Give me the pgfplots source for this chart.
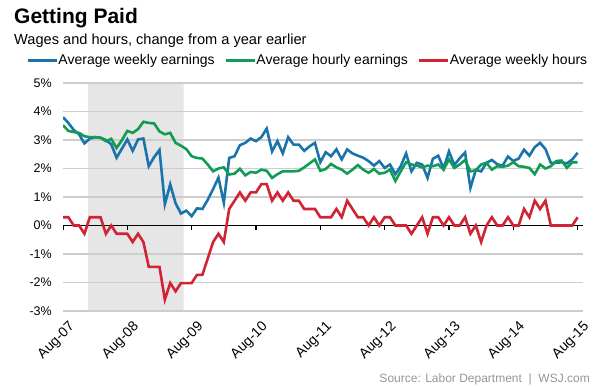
\documentclass[border=0pt]{standalone}
\usepackage{fontspec}
\setmainfont{Liberation Sans}
\usepackage{pgfplots}
\usepackage{pgfplotstable}
\pgfplotsset{compat=1.18}
\definecolor{wsjblue}{RGB}{24,116,170}
\definecolor{wsjgreen}{RGB}{18,155,84}
\definecolor{wsjred}{RGB}{209,35,52}
\definecolor{shade}{RGB}{230,230,230}
\definecolor{gridgray}{RGB}{205,205,205}
\definecolor{srcgray}{RGB}{150,150,150}
\pgfplotstableread{
m w h r
0 3.80 3.52 0.29
1 3.60 3.32 0.29
2 3.35 3.28 0.00
3 3.20 3.25 0.00
4 2.88 3.13 -0.29
5 3.05 3.10 0.29
6 3.10 3.10 0.29
7 3.08 3.08 0.29
8 3.00 2.96 -0.29
9 2.85 3.04 0.00
10 2.38 2.72 -0.29
11 2.70 3.00 -0.29
12 3.02 3.32 -0.29
13 2.62 3.25 -0.58
14 3.02 3.38 -0.29
15 3.05 3.64 -0.58
16 2.08 3.60 -1.45
17 2.40 3.58 -1.45
18 2.65 3.30 -1.45
19 0.75 3.20 -2.60
20 1.44 3.25 -2.02
21 0.78 2.90 -2.31
22 0.42 2.80 -2.02
23 0.52 2.68 -2.02
24 0.33 2.43 -2.02
25 0.60 2.37 -1.73
26 0.58 2.35 -1.73
27 0.90 2.14 -1.16
28 1.28 1.90 -0.58
29 1.68 2.00 -0.29
30 0.80 2.04 -0.58
31 2.37 1.79 0.58
32 2.43 1.82 0.87
33 2.82 1.99 1.16
34 2.90 1.76 0.87
35 3.05 1.88 1.16
36 2.96 1.85 1.16
37 3.10 1.96 1.45
38 3.40 1.92 1.45
39 2.60 1.67 0.87
40 2.96 1.80 1.16
41 2.53 1.90 0.87
42 3.10 1.90 1.16
43 2.84 1.90 0.87
44 2.84 1.92 0.87
45 2.62 2.04 0.58
46 2.78 2.18 0.58
47 2.90 2.32 0.58
48 2.22 1.92 0.29
49 2.57 1.98 0.29
50 2.43 2.16 0.29
51 2.67 2.04 0.58
52 2.32 1.96 0.29
53 2.67 1.82 0.87
54 2.53 1.96 0.58
55 2.45 2.12 0.29
56 2.38 1.96 0.29
57 2.26 1.85 0.00
58 2.10 1.98 0.29
59 2.26 1.82 0.00
60 2.02 1.85 0.29
61 2.14 1.96 0.29
62 1.80 1.56 0.00
63 2.08 1.90 0.00
64 2.53 2.22 0.00
65 1.90 2.14 -0.29
66 2.20 2.10 0.00
67 2.14 2.04 0.29
68 1.67 2.10 -0.29
69 2.34 2.08 0.29
70 2.45 2.14 0.29
71 2.00 1.96 0.00
72 2.60 2.32 0.29
73 2.12 2.02 0.00
74 2.36 2.14 0.00
75 2.56 2.30 0.29
76 1.32 1.90 -0.29
77 1.95 1.94 0.00
78 1.90 2.14 -0.58
79 2.20 2.20 0.00
80 2.30 1.96 0.29
81 2.15 2.08 0.00
82 2.10 2.06 0.00
83 2.42 2.10 0.29
84 2.26 2.22 0.00
85 2.35 2.08 0.00
86 2.66 2.06 0.58
87 2.45 2.02 0.29
88 2.75 1.80 0.87
89 2.90 2.14 0.58
90 2.68 2.00 0.87
91 2.20 2.08 0.00
92 2.20 2.26 0.00
93 2.22 2.28 0.00
94 2.18 2.02 0.00
95 2.32 2.22 0.00
96 2.55 2.22 0.29
}\datatable
\begin{document}
\begin{tikzpicture}
\node[anchor=base west, font=\fontsize{21bp}{24bp}\selectfont\bfseries, inner sep=0] at (14bp,363bp) {Getting Paid};
\node[anchor=base west, font=\fontsize{14.6bp}{16bp}\selectfont, inner sep=0] at (14bp,342bp) {Wages and hours, change from a year earlier};
\node[anchor=base east, text=srcgray, font=\fontsize{12bp}{14bp}\selectfont, inner sep=0] at (590bp,5bp) {Source: Labor Department \ | \ WSJ.com};
\begin{axis}[
  at={(63bp,76bp)}, anchor=south west,
  scale only axis, width=520bp, height=228bp,
  xmin=0, xmax=97, ymin=-3, ymax=5,
  set layers,
  axis line style={draw=none},
  xtick={0,12,...,96},
  xticklabels={Aug-07,Aug-08,Aug-09,Aug-10,Aug-11,Aug-12,Aug-13,Aug-14,Aug-15},
  ytick={-3,-2,...,5},
  yticklabels={-3\%,-2\%,-1\%,0\%,1\%,2\%,3\%,4\%,5\%},
  major tick length=0pt,
  ymajorgrids,
  grid style={line width=1.3bp, color=gridgray},
  yticklabel style={font=\fontsize{12.5bp}{14bp}\selectfont, anchor=east, inner sep=0pt, xshift=-11bp},
  xticklabel style={font=\fontsize{14bp}{16bp}\selectfont, rotate=45, anchor=north east, inner sep=0pt, yshift=-10bp, xshift=-3bp},
  legend columns=3,
  legend cell align=left,
  legend style={at={(-0.071,1.10)}, anchor=west, draw=none, fill=none, inner sep=0pt,
    font=\fontsize{14bp}{16bp}\selectfont,
    nodes={inner sep=0.6bp},
    /tikz/every even column/.append style={column sep=9bp}},
  legend image code/.code={\draw[#1, line width=2.6bp] (0bp,0bp) -- (29bp,0bp);},
]
\addplot[fill=shade, draw=none, forget plot, on layer=axis background] coordinates {(4.65,-3) (22.5,-3) (22.5,5) (4.65,5)} \closedcycle;
\draw[black, line width=1.4bp] (axis cs:0,0) -- (axis cs:97,0);
\pgfplotsinvokeforeach{0,12,...,96}{\draw[black, line width=1.3bp] (axis cs:#1,0) -- (axis cs:#1,-0.15);}
\addplot[wsjblue, line width=2.6bp] table[x=m, y=w] {\datatable};
\addlegendentry{Average weekly earnings}
\addplot[wsjgreen, line width=2.6bp] table[x=m, y=h] {\datatable};
\addlegendentry{Average hourly earnings}
\addplot[wsjred, line width=2.6bp] table[x=m, y=r] {\datatable};
\addlegendentry{Average weekly hours}
\end{axis}
\pgfresetboundingbox
\path (0,0) rectangle (601bp,387bp);
\end{tikzpicture}
\end{document}
